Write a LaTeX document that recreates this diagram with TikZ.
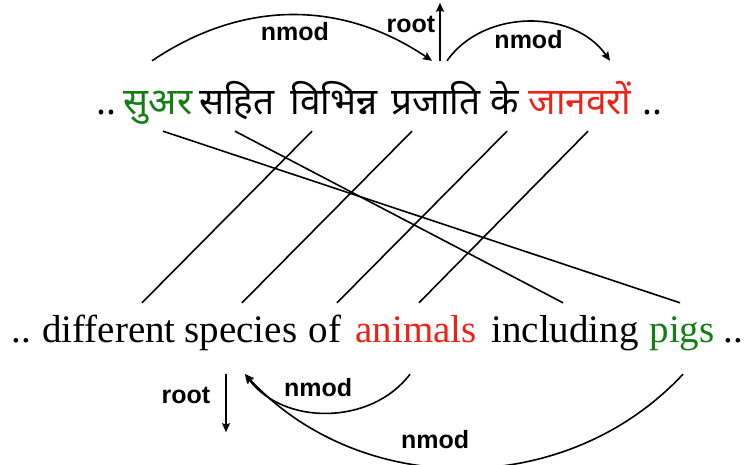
\documentclass[tikz,border=0pt]{standalone}
\usepackage{fontspec}
\newfontfamily\hindifont[Script=Devanagari]{Noto Sans}
\newfontfamily\engfont{Liberation Serif}
\newfontfamily\labelfont{Liberation Sans}
\usetikzlibrary{arrows.meta}
\definecolor{wordgreen}{RGB}{20,125,20}
\definecolor{wordred}{RGB}{235,35,25}

\begin{document}
\begin{tikzpicture}[
    x=1pt, y=1pt,
    hindiword/.style={font=\hindifont\fontsize{37}{44}\selectfont, anchor=base,
      inner xsep=0pt, inner ysep=6pt, text height=24pt, text depth=10pt},
    engword/.style={font=\engfont\fontsize{39}{46}\selectfont, anchor=base,
      inner xsep=0pt, inner ysep=12pt, text height=28pt, text depth=9pt},
    deplabel/.style={font=\labelfont\bfseries\fontsize{25}{30}\selectfont, inner sep=2pt},
    arrow/.style={-{Stealth[length=9pt, width=8pt, inset=1.5pt]}, line width=1.6pt},
    linkline/.style={line width=1.6pt},
  ]
  \useasboundingbox (0,0) rectangle (749,465);

  \node[hindiword]                 (hdotsl)    at (106,350) {..};
  \node[hindiword, text=wordgreen] (suar)      at (158,350) {सुअर};
  \node[hindiword]                 (sahit)     at (237,350) {सहित};
  \node[hindiword]                 (vibhinn)   at (334,350) {विभिन्न};
  \node[hindiword]                 (prajati)   at (436,350) {प्रजाति};
  \node[hindiword]                 (ke)        at (505,350) {के};
  \node[hindiword, text=wordred]   (janvaron)  at (580,350) {जानवरों};
  \node[hindiword]                 (hdotsr)    at (652,350) {..};

  \node[engword]                   (edotsl)    at (21,122)  {..};
  \node[engword]                   (different) at (109,122) {different};
  \node[engword]                   (species)   at (241,122) {species};
  \node[engword]                   (of)        at (325,122) {of};
  \node[engword, text=wordred]     (animals)   at (416,122) {animals};
  \node[engword]                   (including) at (565,122) {including};
  \node[engword, text=wordgreen]   (pigs)      at (682,122) {pigs};
  \node[engword]                   (edotsr)    at (733,122) {..};

  \draw[linkline] ([xshift=5pt]suar.south) -- ([xshift=-2pt]pigs.north);
  \draw[linkline] ([xshift=-2pt]sahit.south) -- ([xshift=-2pt]including.north);
  \draw[linkline] ([xshift=-22pt]vibhinn.south) -- ([xshift=33pt]different.north);
  \draw[linkline] ([xshift=-24pt]prajati.south) -- ([xshift=1pt]species.north);
  \draw[linkline] ([xshift=2pt]ke.south) -- ([xshift=12pt]of.north);
  \draw[linkline] ([xshift=8pt]janvaron.south) -- ([xshift=3pt]animals.north);

  \draw[arrow] ([xshift=-6pt, yshift=24pt]suar.north) to[bend left=34]
    node[deplabel, pos=.51, below=5pt] (hnmodl) {nmod} ([xshift=-4pt, yshift=24pt]prajati.north);
  \draw[arrow] ([xshift=4pt, yshift=24pt]prajati.north) -- ++(0,58)
    node[deplabel, pos=.62, left=2pt] (hroot) {root};
  \draw[arrow] ([xshift=11pt, yshift=24pt]prajati.north) to[bend left=55]
    node[deplabel, pos=.5, below=6pt] (hnmodr) {nmod} ([xshift=30pt, yshift=24pt]janvaron.north);

  \draw[arrow] ([xshift=-15pt, yshift=-10pt]species.south) -- ++(0,-58)
    node[deplabel, pos=.36, left=13pt] (eroot) {root};
  \draw[arrow] ([xshift=-6pt, yshift=-10pt]animals.south) to[bend left=53]
    node[deplabel, pos=.55, above=13pt] (enmods) {nmod} ([xshift=4pt, yshift=-10pt]species.south);
  \draw[arrow] ([xshift=1pt, yshift=-10pt]pigs.south) to[bend left=47]
    node[deplabel, pos=.56, above=15pt] (enmodl) {nmod} ([xshift=4pt, yshift=-10pt]species.south);
\end{tikzpicture}
\end{document}
